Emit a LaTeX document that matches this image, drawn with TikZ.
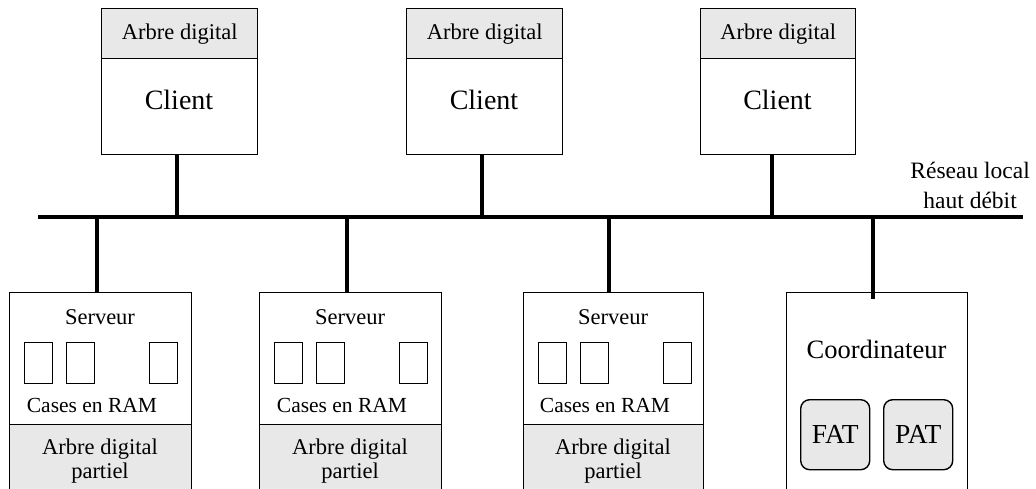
\documentclass[tikz,border=0pt]{standalone}
\usepackage{fontspec}
\setmainfont{Liberation Serif}
\definecolor{boxgray}{HTML}{E8E8E8}
\tikzset{
  box/.style={draw=black, line width=1.4pt, fill=white, anchor=north west, inner sep=0pt},
  graybox/.style={draw=black, line width=1.4pt, fill=boxgray, anchor=north west, inner sep=0pt},
  cell/.style={draw=black, line width=1.2pt, fill=white, anchor=north west, inner sep=0pt, minimum width=28pt, minimum height=41pt},
  tab/.style={draw=black, line width=1.4pt, fill=boxgray, rounded corners=9pt, anchor=north west, inner sep=0pt, minimum width=69pt, minimum height=70pt, font=\fontsize{27.5}{29}\selectfont},
  small/.style={font=\fontsize{22.5}{24}\selectfont, inner sep=0pt, align=center},
  big/.style={font=\fontsize{28}{29}\selectfont, inner sep=0pt},
  wire/.style={line width=4pt},
}
\begin{document}
\begin{tikzpicture}[x=1pt,y=-1pt]
\useasboundingbox (0,0) rectangle (1036,488);
% bus
\coordinate (busL) at (38,217);
\coordinate (busR) at (1023,217);
\draw[wire] (busL) -- (busR);
% clients
\foreach \i/\xl/\xr/\sx in {1/101/257/177, 2/406/562/482, 3/700/855/772}{
  \node[box, minimum width=\xr-\xl, minimum height=146pt] (client\i) at (\xl,8) {};
  \node[graybox, minimum width=\xr-\xl, minimum height=50pt] (hdr\i) at (\xl,8) {};
  \node[small] (hdrtxt\i) at (hdr\i.center) {Arbre digital};
  \node[big] (cltxt\i) at ({(\xl+\xr)/2},100) {Client};
  \coordinate (ctap\i) at (\sx,217);
  \draw[wire] (\sx,154) -- (ctap\i);
}
% servers
\foreach \i/\xl/\xr/\sx in {1/9/191/97, 2/259/441/347, 3/523/703/609}{
  \coordinate (stap\i) at (\sx,217);
  \node[box, minimum width=\xr-\xl, minimum height=210pt] (server\i) at (\xl,292) {};
  \draw[wire] (stap\i) -- (\sx,292);
  \node[graybox, minimum width=\xr-\xl, minimum height=80pt] (part\i) at (\xl,424) {};
  \node[small] (srvtxt\i) at ({(\xl+\xr)/2},317) {Serveur};
  \node[cell] (ca\i) at (\xl+15,342) {};
  \node[cell] (cb\i) at (\xl+57,342) {};
  \node[cell] (cc\i) at (\xl+140,342) {};
  \node[small, font=\fontsize{21.5}{24}\selectfont] (ramtxt\i) at ({(\xl+\xr)/2-8},405) {Cases en RAM};
  \node[small] (parttxt\i) at ({(\xl+\xr)/2},461) {Arbre digital\\partiel};
}
% coordinator
\coordinate (cotap) at (873,217);
\node[box, minimum width=181pt, minimum height=210pt] (coord) at (786,292) {};
\draw[wire] (cotap) -- (873,299);
\node[big, font=\fontsize{26.5}{28}\selectfont] (cotxt) at (876.5,349) {Coordinateur};
\node[tab] (fat) at (800,399) {FAT};
\node[tab] (pat) at (883,399) {PAT};
% network label
\node[font=\fontsize{23.5}{30}\selectfont, inner sep=0pt, align=center, anchor=east] (net) at (1030,185) {Réseau local\\haut débit};
\end{tikzpicture}
\end{document}
